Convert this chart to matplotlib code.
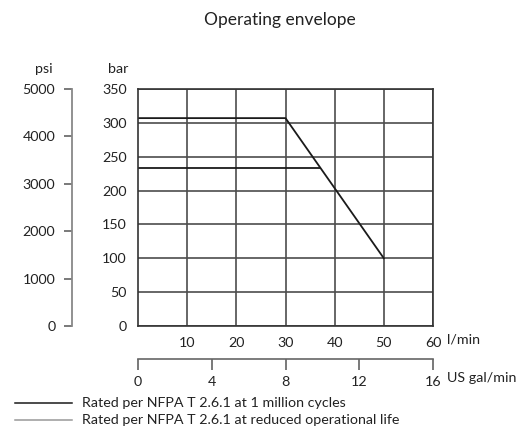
import matplotlib.pyplot as plt

plt.rcParams['font.family'] = ['Lato', 'DejaVu Sans']

# data
flow_lpm_cycles = [0, 30, 50]
press_bar_cycles = [307, 307, 100]
flow_lpm_reduced = [0, 37]
press_bar_reduced = [233, 233]

bar_ticks = [0, 50, 100, 150, 200, 250, 300, 350]
psi_ticks = [0, 1000, 2000, 3000, 4000, 5000]
lpm_ticks = [10, 20, 30, 40, 50, 60]
gal_ticks = [0, 4, 8, 12, 16]

legend_labels = ['Rated per NFPA T 2.6.1 at 1 million cycles',
                 'Rated per NFPA T 2.6.1 at reduced operational life']

W, H = 527, 432
fig = plt.figure(figsize=(W / 100, H / 100), dpi=100)

L, R, B, T = 138, 433, 326, 89
ax = fig.add_axes([L / W, (H - B) / H, (R - L) / W, (B - T) / H])
fs = 10.3
txt = '#222222'

ax.set_xlim(0, 60)
ax.set_ylim(0, 350)
ax.set_xticks(lpm_ticks)
ax.set_yticks(bar_ticks)
ax.grid(True, color='#4d4d4d', lw=1.2)
ax.tick_params(length=0, labelsize=fs, colors=txt, pad=8)
for s in ax.spines.values():
    s.set_color('#333333')
    s.set_linewidth(1.2)

ax.plot(flow_lpm_cycles, press_bar_cycles, color='#1a1a1a', lw=1.3)
ax.plot(flow_lpm_reduced, press_bar_reduced, color='#1a1a1a', lw=1.3)

# psi axis on the far left
axp = fig.add_axes([72 / W, (H - B) / H, 0.0001, (B - T) / H])
axp.set_ylim(0, 5000)
axp.set_yticks(psi_ticks)
axp.set_xticks([])
for k in ['top', 'right', 'bottom']:
    axp.spines[k].set_visible(False)
axp.spines['left'].set_color('#888888')
axp.spines['left'].set_linewidth(1.3)
axp.tick_params(axis='y', length=6, width=1.1, color='#555555',
                labelsize=fs, labelcolor=txt, pad=6)
axp.patch.set_visible(False)

# gal/min axis below
axg = fig.add_axes([L / W, (H - 359) / H, (R - L) / W, 0.0001])
axg.set_xlim(0, 16)
axg.set_xticks(gal_ticks)
axg.set_yticks([])
for k in ['top', 'right', 'left']:
    axg.spines[k].set_visible(False)
axg.spines['bottom'].set_color('#666666')
axg.spines['bottom'].set_linewidth(1.2)
axg.tick_params(axis='x', length=8, width=1.1, color='#555555',
                labelsize=fs, labelcolor=txt, pad=4)
axg.patch.set_visible(False)

# unit labels
fig.text(44 / W, 1 - 69 / H, 'psi', fontsize=fs, color=txt, ha='center', va='center')
fig.text(118 / W, 1 - 69 / H, 'bar', fontsize=fs, color=txt, ha='center', va='center')
fig.text(447 / W, 1 - 340 / H, 'l/min', fontsize=fs, color=txt, ha='left', va='center')
fig.text(447 / W, 1 - 378 / H, 'US gal/min', fontsize=fs, color=txt, ha='left', va='center')
fig.text(280 / W, 1 - 20 / H, 'Operating envelope', fontsize=12.5, color=txt,
         ha='center', va='center')

# legend
for i, (lab, col) in enumerate(zip(legend_labels, ['#1a1a1a', '#999999'])):
    y = 1 - (403 + 17 * i) / H
    fig.add_artist(plt.Line2D([15 / W, 72 / W], [y, y], color=col, lw=1.1))
    fig.text(82 / W, y, lab, fontsize=fs, color=txt, ha='left', va='center')

fig.savefig('out.png', dpi=100)
